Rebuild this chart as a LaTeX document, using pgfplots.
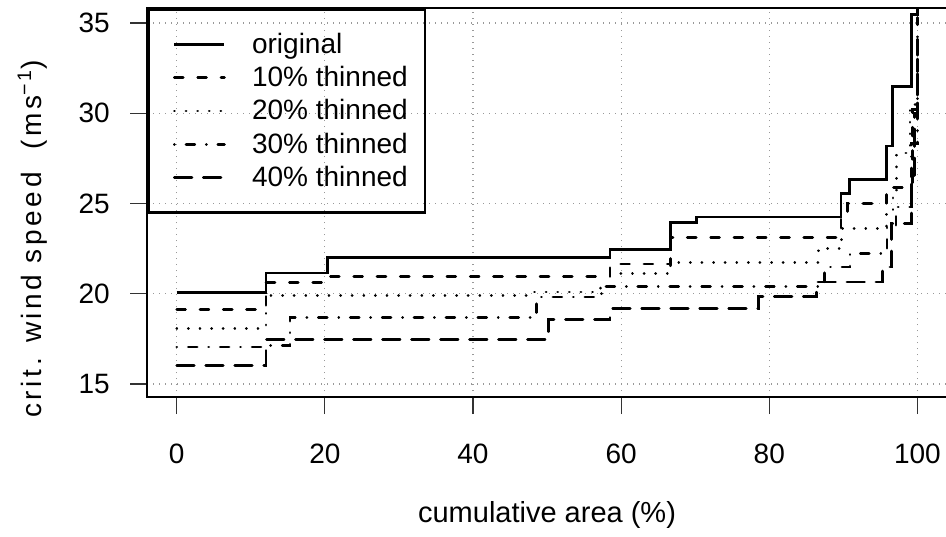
\documentclass[border=0pt]{standalone}
\usepackage{fontspec}
\setmainfont{Liberation Sans}
\newfontfamily\ylabfont[LetterSpace=13]{Liberation Sans}
\usepackage{pgfplots}
\pgfplotsset{compat=1.18}
\tikzset{
  dash10/.style={line cap=round, dash pattern=on 4.4pt off 7.25pt},
  dot20/.style={line cap=round, dash pattern=on 0.05pt off 5.75pt},
  dd30/.style={line cap=round, dash pattern=on 0.05pt off 5.75pt on 4.4pt off 5.75pt},
  ld40/.style={line cap=round, dash pattern=on 8.75pt off 5.75pt},
}
\begin{document}
\begin{tikzpicture}
\useasboundingbox (0,0) rectangle (473pt,268pt);
\begin{axis}[
  at={(73.55pt,69.5pt)}, anchor=south west,
  scale only axis, width=399.95pt, height=194.35pt,
  xmin=-4, xmax=104, ymin=14.28, ymax=35.81,
  xtick={0,20,40,60,80,100}, ytick={15,20,25,30,35},
  xtick pos=left, ytick pos=left,
  tick align=outside, major tick length=8.5pt,
  tick style={black!80, line width=0.6pt},
  axis line style={line width=1.2pt},
  grid=major, grid style={black!40, line width=0.6pt, dash pattern=on 0.6pt off 2.4pt},
  /pgf/number format/assume math mode=true,
  tick label style={font=\fontsize{14}{16.8}\selectfont, inner sep=0pt},
  xticklabel shift=14.75pt, yticklabel shift=10pt,
  xlabel={cumulative area (\%)},
  ylabel={crit. wind speed\ \ (ms\textsuperscript{−1})},
  every axis x label/.style={at={(axis description cs:0.5,-0.3216)}, anchor=base, font=\fontsize{14.5}{17.4}\selectfont},
  every axis y label/.style={at={(axis description cs:-0.1318,0.4064)}, rotate=90, anchor=base, font=\ylabfont\fontsize{14}{16.8}\selectfont},
  legend style={at={(0,1)}, anchor=north west, draw=black, line width=1.2pt, fill=none,
    inner xsep=8.5pt, inner ysep=9pt, row sep=0pt, column sep=13.15pt,
    font=\fontsize{14}{16.8}\selectfont,
    nodes={inner sep=0pt, text height=12.85pt, text depth=3.85pt}},
  legend cell align=left,
  legend image code/.code={\path (0pt,0pt) (28.85pt,0pt); \draw[#1, line width=1.4pt] (3.85pt,0pt) -- (28.85pt,0pt);},
  const plot, no marks,
]
\addplot[black, line width=1.4pt] coordinates {(0,20.07)(12.05,21.15)(20.4,22.0)(58.5,22.45)(66.7,23.95)(70.2,24.25)(89.7,25.55)(90.8,26.33)(95.8,28.18)(96.6,31.48)(99.2,35.45)(100,36.5)};
\addlegendentry{original}
\addplot[black, line width=1.4pt, dash10] coordinates {(0,19.14)(12.05,20.64)(20.4,20.95)(58.5,21.65)(66.7,23.12)(89.7,24.4)(90.6,25.0)(95.8,25.9)(99.3,30.2)(100,35.3)};
\addlegendentry{10\% thinned}
\addplot[black, line width=1.4pt, dot20] coordinates {(0,18.07)(12.05,19.92)(48.2,20.1)(57.2,20.36)(58.5,21.1)(66.7,21.75)(86.6,22.5)(89.8,23.6)(95.8,24.45)(96.7,25.35)(97.2,27.8)(99.0,30.5)(100,34.8)};
\addlegendentry{20\% thinned}
\addplot[black, line width=1.4pt, dd30] coordinates {(0,17.05)(12.05,17.15)(15.3,18.68)(48.6,19.82)(57.4,20.42)(87.5,21.48)(90.9,22.23)(95.9,23.7)(97.1,24.8)(99.2,28.3)(100,34.0)};
\addlegendentry{30\% thinned}
\addplot[black, line width=1.4pt, ld40] coordinates {(0,16.01)(12.05,17.46)(50.2,18.57)(58.5,19.17)(78.5,19.85)(86.4,20.65)(95.3,21.48)(96.5,23.9)(99.2,26.5)(99.6,30)(100,33.0)};
\addlegendentry{40\% thinned}
\end{axis}
\end{tikzpicture}
\end{document}
